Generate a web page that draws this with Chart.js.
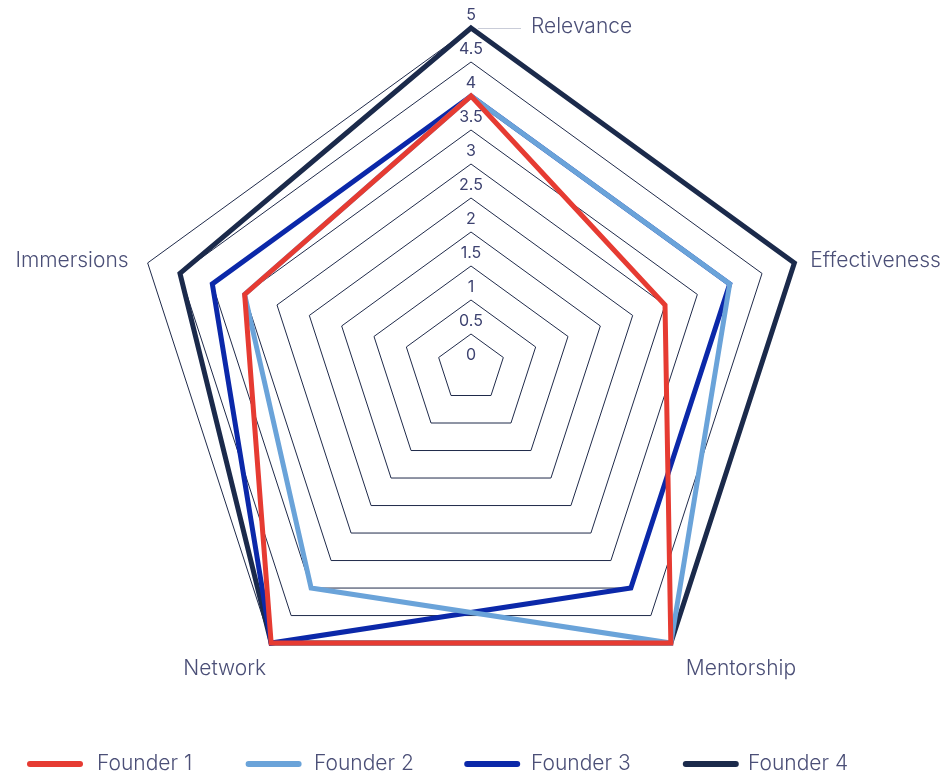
<!DOCTYPE html>
<html>
<head>
<meta charset="utf-8">
<script src="https://cdn.jsdelivr.net/npm/chart.js@4"></script>
<style>
  html, body { margin: 0; padding: 0; background: #fff; }
  #wrap { width: 943px; height: 776px; position: relative; }
</style>
</head>
<body>
<div id="wrap"><canvas id="radar"></canvas></div>
<script>
// -- data
const axes = ["Relevance", "Effectiveness", "Mentorship", "Network", "Immersions"];
const founder1 = [4, 3, 5, 5, 3.5];
const founder2 = [4, 4, 5, 4, 3.5];
const founder3 = [4, 4, 4, 5, 4];
const founder4 = [5, 5, 5, 5, 4.5];
const seriesNames = ["Founder 1", "Founder 2", "Founder 3", "Founder 4"];
const seriesColors = ["#e63b32", "#6aa3d9", "#0b28a9", "#1b2a4b"];

const textColor = "#4b4f77";
const fontFamily = "Inter, 'Noto Sans', sans-serif";

// point label placement (offset from the outer vertex)
const labelPlace = [
  { dx: 60, dy: -1, align: "left" },
  { dx: 16, dy: -2, align: "left" },
  { dx: 15, dy: 26, align: "left" },
  { dx: -5, dy: 26, align: "right" },
  { dx: -19, dy: -2, align: "right" },
];

// draws tick labels, axis names and the legend
const decorPlugin = {
  id: "decor",
  afterDraw(chart) {
    const ctx = chart.ctx;
    const r = chart.scales.r;
    ctx.save();

    // tick labels, sitting just above each ring
    ctx.font = "16px " + fontFamily;
    ctx.fillStyle = "#3d4270";
    ctx.textAlign = "center";
    ctx.textBaseline = "alphabetic";
    r.ticks.forEach((t) => {
      const d = r.getDistanceFromCenterForValue(t.value);
      ctx.fillText(String(t.value), r.xCenter, r.yCenter - d - 8);
    });

    // axis names
    ctx.font = "300 21px " + fontFamily;
    ctx.fillStyle = textColor;
    ctx.textBaseline = "middle";
    axes.forEach((name, i) => {
      const p = r.getPointPosition(i, r.drawingArea);
      const pl = labelPlace[i];
      ctx.textAlign = pl.align;
      ctx.fillText(name, p.x + pl.dx, p.y + pl.dy);
    });
    // leader line for the top label
    const top = r.getPointPosition(0, r.drawingArea);
    ctx.strokeStyle = "#c9ccd8";
    ctx.lineWidth = 1;
    ctx.beginPath();
    ctx.moveTo(top.x + 7, top.y + 0.5);
    ctx.lineTo(top.x + 50, top.y + 0.5);
    ctx.stroke();

    // legend
    const ly = 764;
    ctx.textAlign = "left";
    ctx.font = "300 21px " + fontFamily;
    chart.data.datasets.forEach((ds, i) => {
      const x = 27 + i * 218.6;
      ctx.strokeStyle = ds.borderColor;
      ctx.lineWidth = 6;
      ctx.lineCap = "round";
      ctx.beginPath();
      ctx.moveTo(x + 3, ly);
      ctx.lineTo(x + 53, ly);
      ctx.stroke();
      ctx.fillStyle = textColor;
      ctx.fillText(ds.label, 97 + i * 217, ly);
    });

    ctx.restore();
  },
};

const seriesData = [founder1, founder2, founder3, founder4];

new Chart(document.getElementById("radar").getContext("2d"), {
  type: "radar",
  data: {
    labels: axes,
    datasets: seriesData.map((vals, i) => ({
      label: seriesNames[i],
      data: vals,
      borderColor: seriesColors[i],
      backgroundColor: "transparent",
      borderWidth: 5,
      borderJoinStyle: "miter",
      fill: false,
      pointRadius: 0,
      pointHoverRadius: 0,
      tension: 0,
    })),
  },
  options: {
    responsive: true,
    maintainAspectRatio: false,
    animation: false,
    layout: { padding: { top: 28, bottom: 68, left: 0, right: 0 } },
    plugins: {
      legend: { display: false },
      tooltip: { enabled: false },
    },
    scales: {
      r: {
        min: 0,
        max: 5,
        ticks: { stepSize: 0.5, display: false },
        grid: { color: "#1f2a4a", lineWidth: 1, circular: false },
        angleLines: { display: false },
        pointLabels: { display: false },
      },
    },
  },
  plugins: [decorPlugin],
});
</script>
</body>
</html>
